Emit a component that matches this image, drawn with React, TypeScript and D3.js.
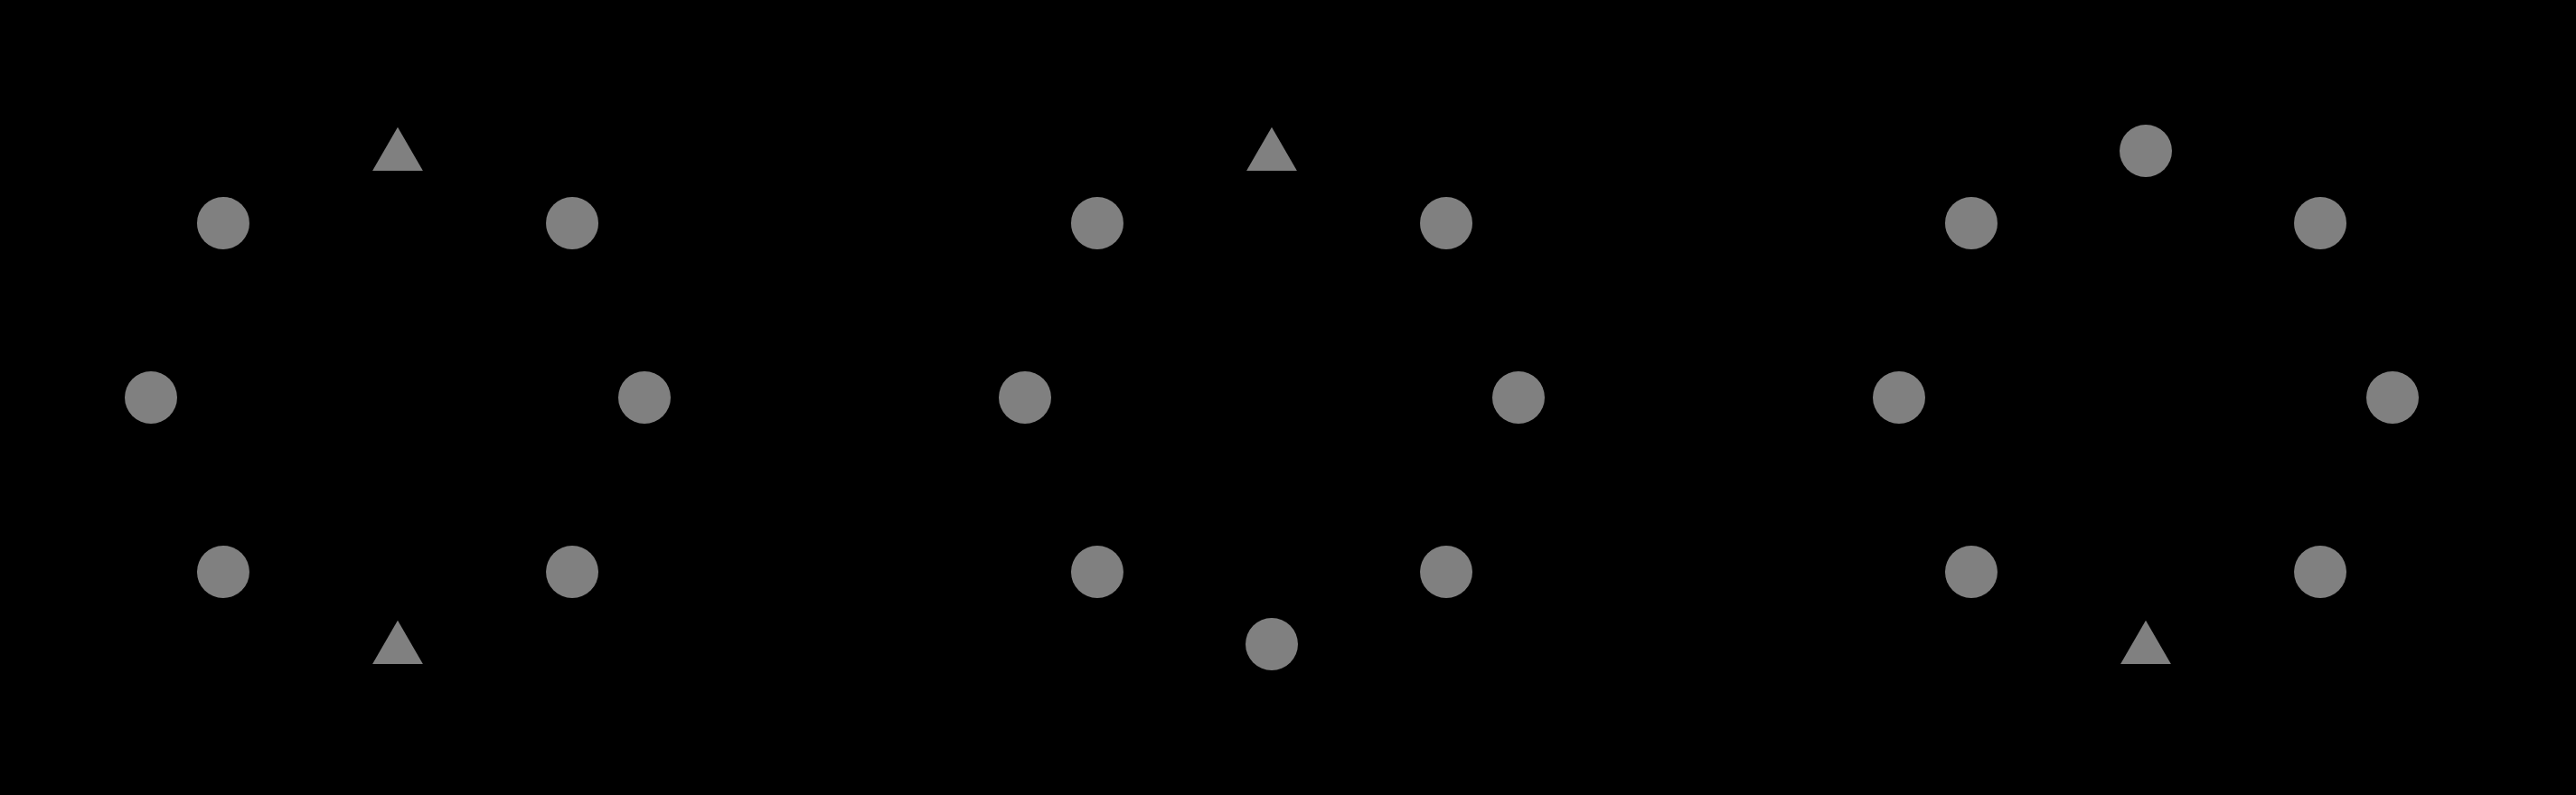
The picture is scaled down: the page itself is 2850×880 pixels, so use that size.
import { useEffect, useRef } from 'react';
import * as d3 from 'd3';

const W = 2850;
const H = 880;

// angle of each marker in degrees (0 = right, counter-clockwise)
const angles = [0, 45, 90, 135, 180, 225, 270, 315];
// marker shape per angle, one list per panel
const panelShapes = [
  ['circle', 'circle', 'triangle', 'circle', 'circle', 'circle', 'triangle', 'circle'],
  ['circle', 'circle', 'triangle', 'circle', 'circle', 'circle', 'circle', 'circle'],
  ['circle', 'circle', 'circle', 'circle', 'circle', 'circle', 'triangle', 'circle'],
];
const panelNames = ['a', 'b', 'c'];

export default function App() {
  const svgRef = useRef<SVGSVGElement>(null);

  useEffect(() => {
    if (!svgRef.current) return;
    const svg = d3.select(svgRef.current);
    svg.selectAll('*').remove();

    svg.append('rect').attr('width', W).attr('height', H).attr('fill', '#000');

    const px = d3.scaleBand().domain(panelNames).range([0, W]).padding(0);
    const r = 273;
    const y = d3.scaleLinear().domain([-1, 1]).range([440 + r, 440 - r]);
    const tri = d3.symbol().type(d3.symbolTriangle).size(1350);

    panelNames.forEach((name, pi) => {
      const cx = (px(name) || 0) + px.bandwidth() / 2 - 35 + pi * 17;
      const x = d3.scaleLinear().domain([-1, 1]).range([cx - r, cx + r]);
      const pts = angles.map((a, i) => ({
        x: x(Math.cos((a * Math.PI) / 180)),
        y: y(Math.sin((a * Math.PI) / 180)),
        shape: panelShapes[pi][i],
      }));
      const g = svg.append('g');
      g.selectAll('circle')
        .data(pts.filter(d => d.shape === 'circle'))
        .join('circle')
        .attr('cx', d => d.x)
        .attr('cy', d => d.y)
        .attr('r', 29)
        .attr('fill', '#808080');
      g.selectAll('path')
        .data(pts.filter(d => d.shape === 'triangle'))
        .join('path')
        .attr('d', tri)
        .attr('transform', d => `translate(${d.x},${d.y + 6})`)
        .attr('fill', '#808080');
    });
  }, []);

  return (
    <div style={{ position: 'fixed', left: 0, top: 0 }}>
      <svg ref={svgRef} width={W} height={H} style={{ display: 'block' }}></svg>
    </div>
  );
}
